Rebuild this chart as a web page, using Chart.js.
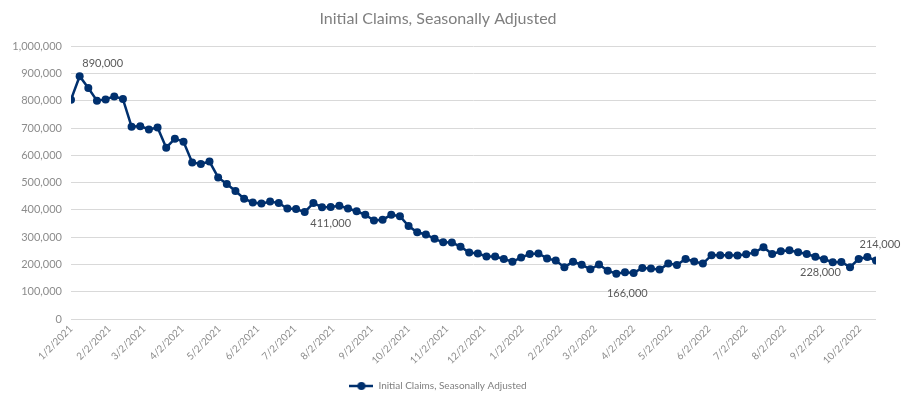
<!DOCTYPE html>
<html>
<head>
<meta charset="utf-8">
<script src="https://cdn.jsdelivr.net/npm/chart.js@4/dist/chart.umd.min.js"></script>
<style>
  html, body { margin: 0; padding: 0; background: #ffffff; }
  #wrap { width: 906px; height: 402px; }
</style>
</head>
<body>
<div id="wrap"><canvas id="claimsChart" width="906" height="402"></canvas></div>
<script>
// weekly series, first week ending 1/2/2021
const firstWeek = '1/2/2021';
const claims = [
  804000, 890000, 847000, 800000, 805000, 816000, 806000, 705000, 707000, 695000,
  702000, 628000, 661000, 650000, 574000, 568000, 577000, 519000, 495000, 469000,
  441000, 427000, 423000, 431000, 425000, 405000, 403000, 392000, 425000, 410000,
  411000, 415000, 405000, 395000, 382000, 361000, 364000, 382000, 377000, 341000,
  318000, 310000, 294000, 281000, 280000, 265000, 244000, 240000, 229000, 229000,
  220000, 210000, 225000, 238000, 240000, 222000, 214000, 190000, 210000, 199000,
  182000, 200000, 177000, 166000, 171000, 169000, 187000, 185000, 181000, 203000,
  198000, 220000, 211000, 203000, 234000, 234000, 234000, 233000, 237000, 244000,
  263000, 238000, 248000, 252000, 245000, 238000, 228000, 219000, 208000, 209000,
  190000, 220000, 227000, 214000
];
const tickDates = [
  '1/2/2021', '2/2/2021', '3/2/2021', '4/2/2021', '5/2/2021', '6/2/2021',
  '7/2/2021', '8/2/2021', '9/2/2021', '10/2/2021', '11/2/2021', '12/2/2021',
  '1/2/2022', '2/2/2022', '3/2/2022', '4/2/2022', '5/2/2022', '6/2/2022',
  '7/2/2022', '8/2/2022', '9/2/2022', '10/2/2022'
];
const yTicks = [0, 100000, 200000, 300000, 400000, 500000, 600000, 700000, 800000, 900000, 1000000];
const labelledWeeks = [1, 30, 63, 86, 93];

const seriesName = 'Initial Claims, Seasonally Adjusted';
const navy = '#00306e';

function dayOffset(str) {
    const [m, d, y] = str.split('/').map(Number);
    const [m0, d0, y0] = firstWeek.split('/').map(Number);
    return Math.round((Date.UTC(y, m - 1, d) - Date.UTC(y0, m0 - 1, d0)) / 86400000);
}
const tickDays = tickDates.map(dayOffset);
const points = claims.map((v, i) => ({ x: i * 7, y: v }));

// label placement relative to its point (dx, dy)
const labelOffsets = { 1: [23, -13], 30: [0, 17], 63: [11, 20], 86: [5, 16], 93: [4, -16] };

// legend marker: short line with a dot
const marker = document.createElement('canvas');
marker.width = 24; marker.height = 10;
(() => {
    const c = marker.getContext('2d');
    c.strokeStyle = navy; c.lineWidth = 2.5;
    c.beginPath(); c.moveTo(0, 5); c.lineTo(24, 5); c.stroke();
    c.fillStyle = navy;
    c.beginPath(); c.arc(12, 5, 4, 0, Math.PI * 2); c.fill();
})();

const pointLabels = {
    id: 'pointLabels',
    afterDatasetsDraw(chart) {
        const meta = chart.getDatasetMeta(0);
        const ctx = chart.ctx;
        ctx.save();
        ctx.font = '11px Lato';
        ctx.fillStyle = '#595959';
        ctx.textAlign = 'center';
        ctx.textBaseline = 'middle';
        labelledWeeks.forEach(i => {
            const el = meta.data[i];
            const [dx, dy] = labelOffsets[i];
            ctx.fillText(claims[i].toLocaleString('en-US'), el.x + dx, el.y + dy);
        });
        ctx.restore();
    }
};

new Chart(document.getElementById('claimsChart'), {
    type: 'line',
    data: {
        datasets: [{
            label: seriesName,
            data: points,
            borderColor: navy,
            backgroundColor: navy,
            borderWidth: 2.5,
            pointRadius: 4,
            pointBackgroundColor: navy,
            pointBorderWidth: 0,
            tension: 0
        }]
    },
    options: {
        responsive: false,
        animation: false,
        layout: { padding: { left: 0, right: 30, top: 0, bottom: 1 } },
        plugins: {
            title: {
                display: true,
                text: seriesName,
                color: '#7f7f7f',
                font: { family: 'Lato', size: 16, weight: 'normal' },
                padding: { top: 9, bottom: 18 }
            },
            legend: {
                position: 'bottom',
                labels: {
                    usePointStyle: true,
                    pointStyle: marker,
                    pointStyleWidth: 24,
                    color: '#7f7f7f',
                    font: { family: 'Lato', size: 10 },
                    padding: 8
                }
            },
            tooltip: { enabled: false }
        },
        scales: {
            x: {
                type: 'linear',
                min: 0,
                max: (claims.length - 1) * 7,
                grid: { display: false, drawTicks: false },
                border: { display: false },
                afterBuildTicks: scale => { scale.ticks = tickDays.map(v => ({ value: v })); },
                afterFit: scale => { scale.height = 54; },
                ticks: {
                    autoSkip: false,
                    minRotation: 45,
                    maxRotation: 45,
                    padding: 4,
                    color: '#8c8c8c',
                    font: { family: 'Lato', size: 10 },
                    callback: v => tickDates[tickDays.indexOf(v)]
                }
            },
            y: {
                min: 0,
                max: 1000000,
                grid: { color: '#d9d9d9', drawTicks: false },
                border: { display: false },
                afterBuildTicks: scale => { scale.ticks = yTicks.map(v => ({ value: v })); },
                afterFit: scale => { scale.width = 71; },
                ticks: {
                    padding: 9,
                    color: '#8c8c8c',
                    font: { family: 'Lato', size: 11 },
                    callback: v => v.toLocaleString('en-US')
                }
            }
        }
    },
    plugins: [pointLabels]
});
</script>
</body>
</html>
